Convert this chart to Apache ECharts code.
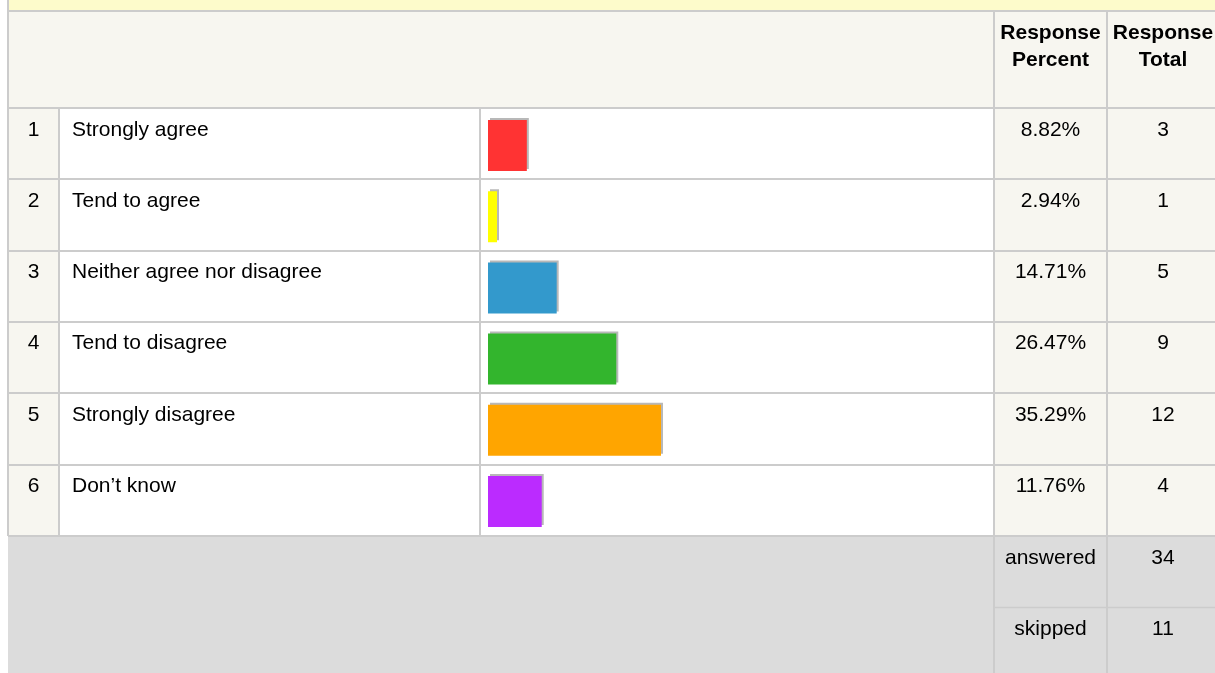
<!DOCTYPE html>
<html>
<head>
<meta charset="utf-8" />
</head>
<body style="margin:0">
<div id="main" style="width:1215px;height:673px;"></div>
<script src="https://cdn.jsdelivr.net/npm/echarts@6/dist/echarts.min.js"></script>
<script>
var answers = ['Strongly agree', 'Tend to agree', 'Neither agree nor disagree', 'Tend to disagree', 'Strongly disagree', 'Don\u2019t know'];
var percents = [8.82, 2.94, 14.71, 26.47, 35.29, 11.76];
var totals = [3, 1, 5, 9, 12, 4];
var barColors = ['#ff3333', '#ffff00', '#3399cc', '#33b52d', '#ffa500', '#bb2bff'];
var headers = ['Response\nPercent', 'Response\nTotal'];
var footerLabels = ['answered', 'skipped'];
var footerValues = [34, 11];

var font = '"Liberation Sans", Arial, sans-serif';
var lineCol = '#cccccc';
var rowTop = 108, rowBottom = 536;
var rowH = (rowBottom - rowTop) / answers.length;

// table skeleton (backgrounds + rules)
var g = [];
function rect(x, y, w, h, fill) {
  g.push({ type: 'rect', z: 0, silent: true, shape: { x: x, y: y, width: w, height: h }, style: { fill: fill } });
}
function line(x1, y1, x2, y2, w) {
  g.push({ type: 'line', z: 1, silent: true, shape: { x1: x1, y1: y1, x2: x2, y2: y2 }, style: { stroke: lineCol, lineWidth: w || 2 } });
}
rect(8, 0, 1207, 11, '#fdfbcb');
rect(8, 12, 1207, rowTop - 12, '#f7f6f0');
rect(8, rowTop, 51, rowBottom - rowTop, '#f7f6f0');
rect(59, rowTop, 935, rowBottom - rowTop, '#ffffff');
rect(994, rowTop, 221, rowBottom - rowTop, '#f7f6f0');
rect(8, rowBottom, 1207, 673 - rowBottom, '#dcdcdc');

line(8, 11, 1215, 11);
for (var i = 0; i <= answers.length; i++) {
  var y = Math.round(rowTop + i * rowH);
  line(8, y, 1215, y);
}
line(8, 0, 8, rowBottom);
line(59, rowTop, 59, rowBottom);
line(480, rowTop, 480, rowBottom);
line(994, 12, 994, 673);
line(1107, 12, 1107, 673);
line(994, 607.5, 1215, 607.5, 1.5);

// header + footer texts
[1050.5, 1163].forEach(function (cx, k) {
  g.push({ type: 'text', z: 2, x: cx, y: 46.5, style: { text: headers[k], font: 'bold 21px ' + font, fill: '#000', align: 'center', verticalAlign: 'middle', lineHeight: 27 } });
});
footerLabels.forEach(function (lab, k) {
  var cy = 558 + k * 71;
  g.push({ type: 'text', z: 2, x: 1050.5, y: cy, style: { text: lab, font: '21px ' + font, fill: '#000', align: 'center', verticalAlign: 'middle' } });
  g.push({ type: 'text', z: 2, x: 1163, y: cy, style: { text: String(footerValues[k]), font: '21px ' + font, fill: '#000', align: 'center', verticalAlign: 'middle' } });
});

var txt = { fontSize: 21, fontFamily: font, color: '#000' };

var myChart = echarts.init(document.getElementById('main'));
var option = {
  animation: false,
  backgroundColor: '#ffffff',
  graphic: { elements: g },
  grid: { left: 488, right: 226, top: 110, bottom: 136 },
  xAxis: { type: 'value', min: 1.16, max: 100, show: false },
  yAxis: [
    {
      type: 'category', data: answers, inverse: true,
      axisLine: { show: false }, axisTick: { show: false }, splitLine: { show: false },
      axisLabel: {
        interval: 0, margin: 480, align: 'left', padding: [0, 0, 31, 0],
        formatter: function (v, i) { return '{n|' + (i + 1) + '}{g| }{l|' + v + '}'; },
        rich: {
          n: Object.assign({ width: 51, align: 'center' }, txt),
          g: Object.assign({ width: 13 }, txt),
          l: txt
        }
      }
    },
    {
      type: 'category', data: answers, inverse: true, position: 'right',
      axisLine: { show: false }, axisTick: { show: false }, splitLine: { show: false },
      axisLabel: {
        interval: 0, margin: 5, padding: [0, 0, 31, 0],
        formatter: function (v, i) { return '{p|' + percents[i].toFixed(2) + '%}{t|' + totals[i] + '}'; },
        rich: {
          p: Object.assign({ width: 113, align: 'center' }, txt),
          t: Object.assign({ width: 112, align: 'center' }, txt)
        }
      }
    }
  ],
  series: [{
    type: 'bar',
    yAxisIndex: 0,
    barWidth: 51,
    clip: true,
    silent: true,
    z: 3,
    itemStyle: { shadowColor: '#b8b8b8', shadowOffsetX: 2, shadowOffsetY: -2, shadowBlur: 0 },
    data: percents.map(function (v, i) { return { value: v, itemStyle: { color: barColors[i] } }; })
  }]
};
myChart.setOption(option);
</script>
</body>
</html>
